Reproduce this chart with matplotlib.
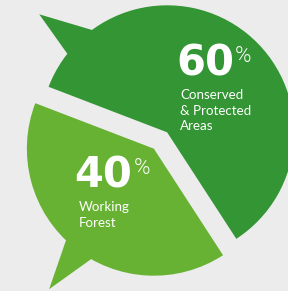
import numpy as np
import matplotlib.pyplot as plt
from matplotlib.patches import Polygon

shares = [60, 40]
names = ["Conserved\n& Protected\nAreas", "Working\nForest"]
colors = ["#339533", "#67b232"]

bg = "#ececec"
R_PX = 127.0            # pie radius in pixels
CX, CY = 160.5, 140.5   # pie centre in pixels (from top-left)

# speech-bubble tails: (base angle a, base angle b, tip angle, tip radius)
tails = [(126.3, 141.8, 137.3, 1.37), (226.2, 240.4, 233.3, 1.38)]

# label anchors in pixels (left, baseline of the big number)
anchors = [(176.0, 75.0), (74.5, 187.3)]


def px(x, y):
    return (x - CX) / R_PX, (CY - y) / R_PX


fig = plt.figure(figsize=(2.88, 2.91), dpi=100, facecolor=bg)
ax = fig.add_axes([0, 0, 1, 1])
ax.set_facecolor(bg)

wedges, _ = ax.pie(shares, colors=colors, explode=[0.083, 0.083], startangle=-57,
                   radius=1, wedgeprops=dict(linewidth=0))

for w, (a, b, t, tr) in zip(wedges, tails):
    cx, cy = w.center
    r = w.r
    pts = [(cx + r * np.cos(np.radians(a)), cy + r * np.sin(np.radians(a))),
           (cx + tr * r * np.cos(np.radians(t)), cy + tr * r * np.sin(np.radians(t))),
           (cx + r * np.cos(np.radians(b)), cy + r * np.sin(np.radians(b))),
           (cx, cy)]
    ax.add_patch(Polygon(pts, closed=True, facecolor=w.get_facecolor(), linewidth=0, zorder=0.5))

ax.set_xlim(-CX / R_PX, (288 - CX) / R_PX)
ax.set_ylim(-(291 - CY) / R_PX, CY / R_PX)
ax.set_aspect("auto")
ax.axis("off")

for v, name, (lx, ly) in zip(shares, names, anchors):
    x, y = px(lx, ly)
    t = ax.text(x, y, f"{v}", color="white", fontsize=30, fontweight="bold",
                family="DejaVu Sans", ha="left", va="baseline")
    # percent sign right after the number
    fig.canvas.draw()
    bb = t.get_window_extent().transformed(ax.transData.inverted())
    ax.text(bb.x1 + 1 / R_PX, y + 13.3 / R_PX, "%", color="white", fontsize=16,
            family="Roboto", fontweight=300, ha="left", va="baseline")
    for i, line in enumerate(name.split("\n")):
        lx2, ly2 = px(lx + 4, ly + 24 + 15.5 * i)
        ax.text(lx2, ly2, line, color="white", fontsize=9.6, family="Lato",
                ha="left", va="baseline")

fig.savefig("out.png", dpi=100, facecolor=bg)
